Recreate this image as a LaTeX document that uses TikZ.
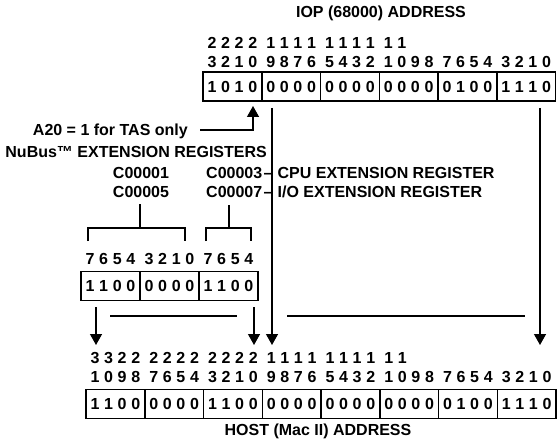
\documentclass[tikz,border=0pt]{standalone}
\usepackage{fontspec}
\setmainfont{Liberation Sans}
\usetikzlibrary{arrows.meta}
\newcommand\spr[4]{\makebox[13.6pt]{#1}\makebox[13.6pt]{#2}\makebox[13.6pt]{#3}\makebox[13.6pt]{#4}}
\begin{document}
\begin{tikzpicture}[x=1pt,y=-1pt,
  every node/.style={font=\fontsize{16}{18}\selectfont\bfseries, inner sep=0pt},
  bx/.style={draw, line width=1.5pt, minimum width=58.75pt, minimum height=29pt},
  nbx/.style={bx, minimum width=59pt},
  ln/.style={line width=1.3pt},
  arr/.style={ln, -{Triangle[length=11pt,width=12pt]}}]
\useasboundingbox (0,0) rectangle (557,441);
% titles
\node (iop) at (381,13) {IOP (68000) ADDRESS};
\node (host) at (318,431) {HOST (Mac II) ADDRESS};
% IOP address
\foreach \v [count=\k from 0] in {2222,1111,1111}
  \node (it\k) at ({232.375+58.75*\k},43) {\expandafter\spr\v};
\node (it3) at (408.625,43) {\spr11{}{}};
\foreach \v [count=\k from 0] in {3210,9876,5432,1098,7654,3210}
  \node (ib\k) at ({232.375+58.75*\k},62) {\expandafter\spr\v};
\foreach \v [count=\k from 0] in {1010,0000,0000,0000,0100,1110}
  \node[bx] (i\k) at ({232.375+58.75*\k},86.5) {\expandafter\spr\v};
% host address
\foreach \v [count=\k from 0] in {3322,2222,2222,1111,1111}
  \node (ht\k) at ({115.375+58.75*\k},358) {\expandafter\spr\v};
\node (ht5) at (409.125,358) {\spr11{}{}};
\foreach \v [count=\k from 0] in {1098,7654,3210,9876,5432,1098,7654,3210}
  \node (hb\k) at ({115.375+58.75*\k},377) {\expandafter\spr\v};
\foreach \v [count=\k from 0] in {1100,0000,1100,0000,0000,0000,0100,1110}
  \node[bx] (h\k) at ({115.375+58.75*\k},404) {\expandafter\spr\v};
% NuBus registers
\foreach \v [count=\k from 0] in {7654,3210,7654}
  \node (nl\k) at ({110.5+59*\k},259) {\expandafter\spr\v};
\foreach \v [count=\k from 0] in {1100,0000,1100}
  \node[nbx] (n\k) at ({110.5+59*\k},286) {\expandafter\spr\v};
% texts
\node[anchor=east] (a20) at (188,131) {A20 = 1 for TAS only};
\node[anchor=east] (nub) at (267,152) {NuBus™ EXTENSION REGISTERS};
\node (c1) at (141,173) {C00001};
\node (c5) at (141,192) {C00005};
\node[anchor=west] (c3) at (206,173) {C00003\hspace{1.5pt}–\hspace{5pt}CPU EXTENSION REGISTER};
\node[anchor=west] (c7) at (206,192) {C00007\hspace{1.5pt}–\hspace{5pt}I/O EXTENSION REGISTER};
% connector coordinates
\coordinate (a20s) at (200,130);
\coordinate (a20t) at (253,106);
\coordinate (p1s) at (272,108);
\coordinate (p1e) at (272,345);
\coordinate (p2s) at (540,108);
\coordinate (p2e) at (540,345);
\coordinate (q1s) at (96,307);
\coordinate (q1e) at (96,345);
\coordinate (q2s) at (254,307);
\coordinate (q2e) at (254,345);
\coordinate (h1s) at (110,316);
\coordinate (h1e) at (237,316);
\coordinate (h2s) at (287,316);
\coordinate (h2e) at (525,316);
\coordinate (bl1) at (88,241);
\coordinate (bl2) at (185,241);
\coordinate (blm) at (140,228);
\coordinate (blt) at (140,204);
\coordinate (br1) at (206,241);
\coordinate (br2) at (251,241);
\coordinate (brm) at (229,228);
\coordinate (brt) at (229,205);
% connectors
\draw[arr] (a20s) -| (a20t);
\draw[arr] (p1s) -- (p1e);
\draw[arr] (p2s) -- (p2e);
\draw[arr] (q1s) -- (q1e);
\draw[arr] (q2s) -- (q2e);
\draw[ln] (h1s) -- (h1e);
\draw[ln] (h2s) -- (h2e);
\draw[ln] (bl1) |- (bl2 |- blm) -- (bl2);
\draw[ln] (blt) -- (blm);
\draw[ln] (br1) |- (br2 |- brm) -- (br2);
\draw[ln] (brt) -- (brm);
\end{tikzpicture}
\end{document}
